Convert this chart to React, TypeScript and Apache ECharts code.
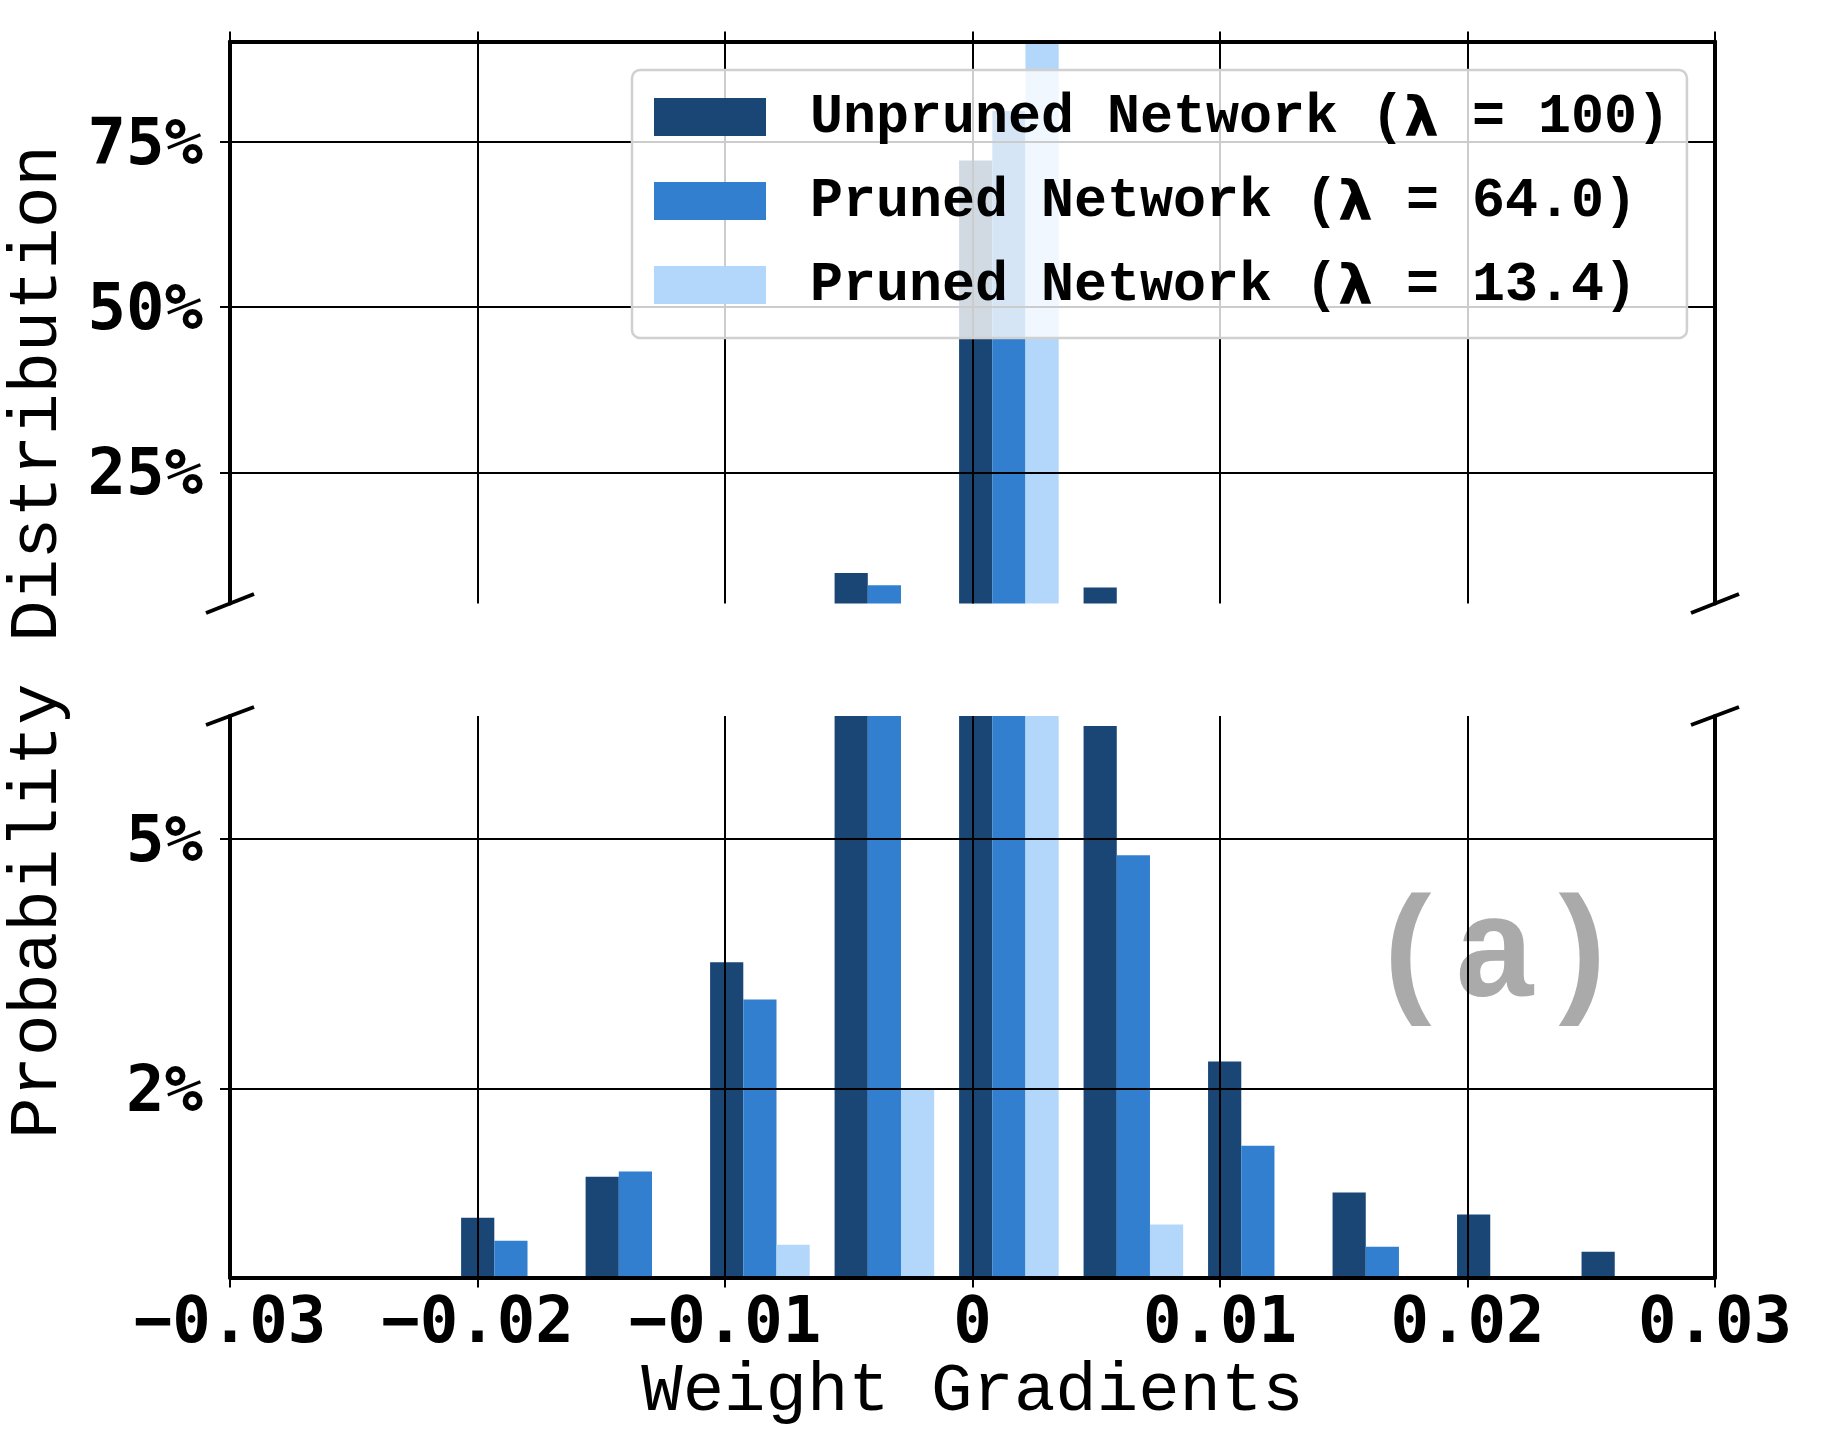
import React, { useEffect, useRef } from 'react';
import * as echarts from 'echarts';

// Histogram bin centres (weight gradient values)
const binCenters = [-0.01865, -0.01362, -0.00859, -0.00356, 0.00147, 0.0065, 0.01153, 0.01656, 0.02159, 0.02662];

const seriesNames = [
  'Unpruned Network (λ = 100)',
  'Pruned Network (λ = 64.0)',
  'Pruned Network (λ = 13.4)',
];

// Probability (%) per bin
const unprunedPct = [1.245, 1.447, 3.18, 9.78, 72.2, 7.57, 2.21, 1.366, 1.26, 1.099];
const pruned64Pct = [1.144, 1.476, 2.773, 7.9, 79.7, 4.71, 1.622, 1.119, null, null];
const pruned13Pct = [null, null, 1.128, 1.99, 91.5, 1.215, null, null, null, null];

const seriesColors = ['#1a4676', '#327fcf', '#b3d7fa'];

const upperTicks = [25, 50, 75];
const lowerTicks = [2, 5];
const upperRange = [5.15, 90.2];
const lowerRange = [1, 7.85];
const xRange = [-0.03, 0.03];
const xStep = 0.01;

export default function App() {
  const ref = useRef<HTMLDivElement>(null);

  useEffect(() => {
    document.body.style.margin = '0';
    if (!ref.current) return;
    const chart = echarts.init(ref.current, null, { renderer: 'svg' });

    const tickFont = {
      fontFamily: 'DejaVu Sans Mono',
      fontWeight: 'bold' as const,
      fontSize: 64,
      color: '#000',
    };
    const spine = { show: true, onZero: false, lineStyle: { color: '#000', width: 4 } };
    const grid = { show: true, lineStyle: { color: '#000', width: 2 } };
    const tick = { show: true, length: 10, inside: false, lineStyle: { color: '#000', width: 2 } };

    const datasets = [unprunedPct, pruned64Pct, pruned13Pct];
    const series: any[] = [];
    [0, 1].forEach((g) => {
      datasets.forEach((vals, i) => {
        series.push({
          type: 'bar',
          name: seriesNames[i],
          xAxisIndex: g,
          yAxisIndex: g === 0 ? 0 : 2,
          data: binCenters.map((x, k) => [x, vals[k] == null ? '-' : vals[k]]),
          barWidth: '26.67%',
          barGap: '0%',
          itemStyle: { color: seriesColors[i] },
          clip: true,
          silent: true,
        });
      });
    });

    const xFormatter = (v: number) => {
      if (Math.abs(v) < 1e-9) return '0';
      return (v < 0 ? '\u2212' : '') + Math.abs(v).toFixed(2);
    };

    const option: any = {
      animation: false,
      backgroundColor: '#fff',
      grid: [
        { left: 230, top: 41.5, width: 1485, height: 562 },
        { left: 230, top: 716, width: 1485, height: 561.5 },
      ],
      xAxis: [
        {
          gridIndex: 0, type: 'value', position: 'top',
          min: xRange[0], max: xRange[1], interval: xStep,
          axisLine: spine, axisTick: tick, axisLabel: { show: false },
          splitLine: grid, z: 3,
        },
        {
          gridIndex: 1, type: 'value', position: 'bottom',
          min: xRange[0], max: xRange[1], interval: xStep,
          axisLine: spine, axisTick: tick,
          axisLabel: { ...tickFont, margin: 10, formatter: xFormatter },
          splitLine: grid, z: 3,
          name: 'Weight Gradients', nameLocation: 'middle', nameGap: 80,
          nameTextStyle: { fontFamily: 'Liberation Mono', fontSize: 69, color: '#000' },
        },
      ],
      yAxis: [
        {
          gridIndex: 0, type: 'value', min: upperRange[0], max: upperRange[1],
          axisLine: spine,
          axisTick: { ...tick, customValues: upperTicks },
          axisLabel: { ...tickFont, margin: 27, customValues: upperTicks, formatter: (v: number) => Math.round(v) + '%' },
          splitLine: grid, z: 3,
        },
        {
          gridIndex: 0, type: 'value', position: 'right', min: 0, max: 1,
          axisLine: spine, axisTick: { show: false }, axisLabel: { show: false }, splitLine: { show: false }, z: 3,
        },
        {
          gridIndex: 1, type: 'log', logBase: 10, min: lowerRange[0], max: lowerRange[1],
          axisLine: spine,
          axisTick: { ...tick, customValues: lowerTicks },
          axisLabel: { ...tickFont, margin: 27, customValues: lowerTicks, formatter: (v: number) => Math.round(v) + '%' },
          splitLine: grid, minorTick: { show: false }, minorSplitLine: { show: false }, z: 3,
        },
        {
          gridIndex: 1, type: 'value', position: 'right', min: 0, max: 1,
          axisLine: spine, axisTick: { show: false }, axisLabel: { show: false }, splitLine: { show: false }, z: 3,
        },
      ],
      legend: {
        data: seriesNames,
        orient: 'vertical',
        left: 632,
        top: 70,
        itemWidth: 112,
        itemHeight: 38,
        itemGap: 29,
        padding: [19.5, 17, 25.5, 22],
        backgroundColor: 'rgba(255,255,255,0.8)',
        borderColor: '#d0d0d0',
        borderWidth: 2.5,
        borderRadius: 8,
        icon: 'rect',
        selectedMode: false,
        z: 10,
        formatter: (n: string) => '{s| }' + n.replace('λ', '{l|λ}'),
        textStyle: {
          fontFamily: 'Liberation Mono',
          fontWeight: 'bold',
          fontSize: 55,
          color: '#000',
          lineHeight: 38,
          rich: {
            s: { width: 39, fontSize: 55, lineHeight: 38 },
            l: { fontFamily: 'DejaVu Sans', fontWeight: 'bold', fontSize: 55, lineHeight: 38, color: '#000' },
          },
        },
      },
      graphic: [
        {
          type: 'text', x: 38, y: 642, rotation: Math.PI / 2, z: 1,
          style: {
            text: 'Probability Distribution', fontFamily: 'Liberation Mono', fontSize: 69,
            fill: '#000', align: 'center', verticalAlign: 'middle', textAlign: 'center', textVerticalAlign: 'middle',
          },
        },
        {
          type: 'text', x: 1495, y: 958, z: 1,
          style: {
            text: '(a)', fontFamily: 'Liberation Mono', fontWeight: 'bold', fontSize: 142,
            fill: '#aaaaaa', align: 'center', verticalAlign: 'middle', textAlign: 'center', textVerticalAlign: 'middle',
          },
        },
        { type: 'line', z: 20, shape: { x1: 206, y1: 613, x2: 254, y2: 594 }, style: { stroke: '#000', lineWidth: 4 } },
        { type: 'line', z: 20, shape: { x1: 206, y1: 725, x2: 254, y2: 707 }, style: { stroke: '#000', lineWidth: 4 } },
        { type: 'line', z: 20, shape: { x1: 1691, y1: 613, x2: 1739, y2: 594 }, style: { stroke: '#000', lineWidth: 4 } },
        { type: 'line', z: 20, shape: { x1: 1691, y1: 725, x2: 1739, y2: 707 }, style: { stroke: '#000', lineWidth: 4 } },
      ],
      series,
    };

    chart.setOption(option);
    return () => chart.dispose();
  }, []);

  return <div ref={ref} style={{ width: 1838, height: 1438 }} />;
}
